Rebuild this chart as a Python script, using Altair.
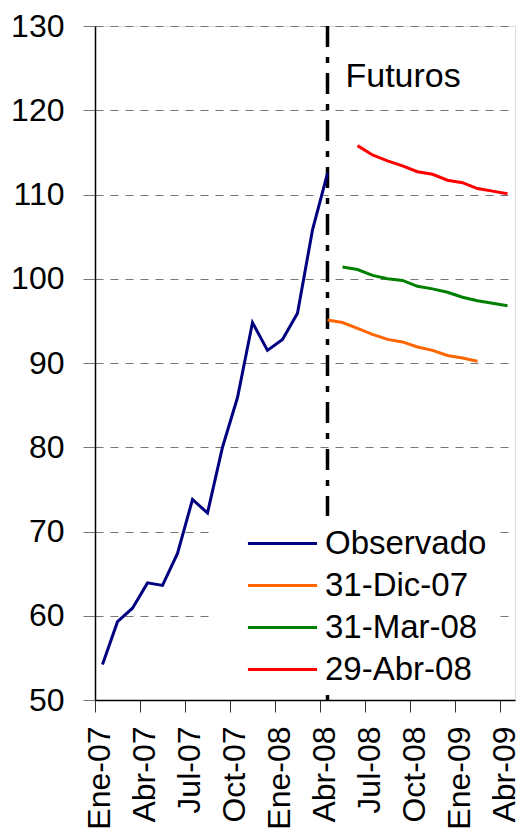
import altair as alt
import pandas as pd

months = ["Ene-07", "Feb-07", "Mar-07", "Abr-07", "May-07", "Jun-07", "Jul-07",
          "Ago-07", "Sep-07", "Oct-07", "Nov-07", "Dic-07",
          "Ene-08", "Feb-08", "Mar-08", "Abr-08", "May-08", "Jun-08", "Jul-08",
          "Ago-08", "Sep-08", "Oct-08", "Nov-08", "Dic-08",
          "Ene-09", "Feb-09", "Mar-09", "Abr-09"]
tick_labels = ["Ene-07", "Abr-07", "Jul-07", "Oct-07", "Ene-08", "Abr-08",
               "Jul-08", "Oct-08", "Ene-09", "Abr-09"]

observado = [54.2, 59.3, 60.9, 63.9, 63.6, 67.4, 73.8, 72.2, 80.0, 85.9,
             94.8, 91.5, 92.8, 95.9, 105.8, 112.5]
obs_start = "Ene-07"
fut_dic07 = [95.1, 94.8, 94.1, 93.4, 92.8, 92.5, 91.9, 91.5, 90.9, 90.6, 90.2]
dic07_start = "Abr-08"
fut_mar08 = [101.4, 101.1, 100.4, 100.0, 99.8, 99.1, 98.8, 98.4, 97.8, 97.4,
             97.1, 96.8]
mar08_start = "May-08"
fut_abr08 = [115.8, 114.7, 114.0, 113.4, 112.7, 112.4, 111.7, 111.4, 110.7,
             110.4, 110.1]
abr08_start = "Jun-08"

series_names = ["Observado", "31-Dic-07", "31-Mar-08", "29-Abr-08"]
series_colors = ["#000080", "#FF6600", "#008000", "#FF0000"]

rows = []
for name, start, vals in [("Observado", obs_start, observado),
                          ("31-Dic-07", dic07_start, fut_dic07),
                          ("31-Mar-08", mar08_start, fut_mar08),
                          ("29-Abr-08", abr08_start, fut_abr08)]:
    i0 = months.index(start)
    for k, v in enumerate(vals):
        rows.append({"mes": months[i0 + k], "valor": v, "serie": name})
df = pd.DataFrame(rows)

FONT = "Liberation Sans"

x_enc = alt.X("mes:O",
              scale=alt.Scale(type="band", domain=months, paddingInner=0, paddingOuter=0),
              sort=months,
              axis=alt.Axis(title=None, values=tick_labels, bandPosition=0,
                            labelAngle=-90, labelFontSize=32, labelFont=FONT,
                            labelColor="black", tickSize=12, tickColor="#333",
                            labelPadding=14, labelOffset=-3, grid=False,
                            domainColor="black", domainWidth=1.5))
y_enc = alt.Y("valor:Q",
              scale=alt.Scale(domain=[50, 130], nice=False, zero=False),
              axis=alt.Axis(title=None, values=list(range(50, 131, 10)),
                            labelFontSize=32, labelFont=FONT, labelColor="black",
                            tickSize=12, tickColor="#777", labelPadding=19,
                            grid=True, gridDash=[8, 7], gridColor="#777",
                            gridWidth=1, domainColor="black", domainWidth=1.5))

lines = alt.Chart(df).mark_line(strokeWidth=3).encode(
    x=x_enc,
    y=y_enc,
    color=alt.Color("serie:N",
                    scale=alt.Scale(domain=series_names, range=series_colors),
                    legend=alt.Legend(title=None, orient="none", legendX=115, legendY=490,
                                      fillColor="white", padding=8,
                                      symbolType="M-1.92,0H1.92", symbolSize=1296,
                                      symbolStrokeWidth=3, symbolOffset=45,
                                      labelOffset=23, labelFontSize=33, labelFont=FONT,
                                      labelColor="black", labelLimit=400, rowPadding=5)),
)

rule = alt.Chart(pd.DataFrame({"mes": ["Abr-08"]})).mark_rule(
    color="black", strokeWidth=3.5, strokeDash=[21, 10, 6, 10]
).encode(x=alt.X("mes:O", scale=alt.Scale(type="band", domain=months)))

label = alt.Chart(pd.DataFrame({"mes": ["May-08"], "valor": [122.8], "t": ["Futuros"]})).mark_text(
    align="left", baseline="alphabetic", fontSize=34, font=FONT, color="black", dx=3
).encode(x=alt.X("mes:O", scale=alt.Scale(type="band", domain=months)),
         y=alt.Y("valor:Q", scale=alt.Scale(domain=[50, 130])),
         text="t:N")

chart = alt.layer(rule, lines, label).properties(
    width=420, height=674,
    padding={"left": 87, "top": 18, "right": 6, "bottom": 132},
    autosize=alt.AutoSizeParams(type="none"),
).configure_view(stroke="#666", strokeWidth=1).configure(background="white")

chart.save("out.html", embed_options={"renderer": "svg", "actions": False})
